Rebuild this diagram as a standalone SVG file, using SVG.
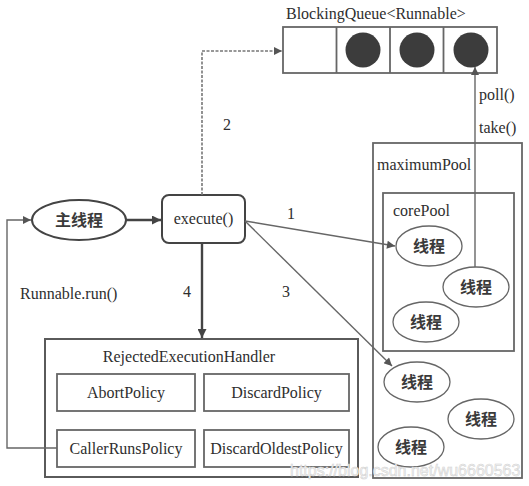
<svg xmlns="http://www.w3.org/2000/svg" width="529" height="486" viewBox="0 0 529 486">
<defs>
<marker id="ah" viewBox="0 0 10 10" refX="10" refY="5" markerWidth="10" markerHeight="8" markerUnits="userSpaceOnUse" orient="auto">
<path d="M0,0 L10,5 L0,10 Z" fill="#555"/>
</marker>
<marker id="ahd" viewBox="0 0 10 10" refX="10" refY="5" markerWidth="11" markerHeight="9" markerUnits="userSpaceOnUse" orient="auto">
<path d="M0,0 L10,5 L0,10 Z" fill="#444"/>
</marker>
</defs>
<style>
text{font-family:"Liberation Serif","Times New Roman",serif;font-size:16px;fill:#2e2e2e}
.cjk{font-family:"Noto Sans CJK SC","Liberation Serif",sans-serif;font-size:16px;font-weight:bold;fill:#3a3a3a}
.mid{text-anchor:middle}
.box{fill:#fff;stroke:#5a5a5a;stroke-width:2}
.pbox{fill:#fff;stroke:#666;stroke-width:1.8}
.pool{fill:none;stroke:#666;stroke-width:1.8}
.th{fill:#fff;stroke:#666;stroke-width:1.3}
.dot{fill:#3c3c3c}
.thin{fill:none;stroke:#666;stroke-width:1.4}
.thick{fill:none;stroke:#444;stroke-width:2.4}
.dash{fill:none;stroke:#777;stroke-width:1.6;stroke-dasharray:3,1.5}
.wm{font-family:"Liberation Sans",Arial,sans-serif;font-size:16px;fill:#f4f4f4;stroke:#cfcfcf;stroke-width:0.5}
</style>
<rect width="529" height="486" fill="#fff"/>

<g id="queue">
<text x="286" y="19">BlockingQueue&lt;Runnable&gt;</text>
<rect class="pool" x="283" y="27" width="214" height="46"/>
<line class="pool" x1="336.5" y1="27" x2="336.5" y2="73"/>
<line class="pool" x1="390" y1="27" x2="390" y2="73"/>
<line class="pool" x1="443.5" y1="27" x2="443.5" y2="73"/>
<circle class="dot" cx="363" cy="50" r="17.5"/>
<circle class="dot" cx="417" cy="50" r="17.5"/>
<circle class="dot" cx="471" cy="50" r="17.5"/>
</g>

<g id="maximumPool">
<rect class="pool" x="373" y="143" width="149" height="335"/>
<text x="377" y="170">maximumPool</text>
<ellipse class="th" cx="417" cy="382" rx="33" ry="20"/>
<text class="cjk mid" x="417" y="388">线程</text>
<ellipse class="th" cx="481" cy="419" rx="33" ry="20"/>
<text class="cjk mid" x="481" y="425">线程</text>
<ellipse class="th" cx="411" cy="447" rx="33" ry="20"/>
<text class="cjk mid" x="411" y="453">线程</text>
</g>

<g id="corePool">
<rect class="pool" x="383" y="193" width="131" height="158"/>
<text x="393" y="216">corePool</text>
<ellipse class="th" cx="429" cy="246" rx="33" ry="20"/>
<text class="cjk mid" x="429" y="252">线程</text>
<ellipse class="th" cx="476" cy="287" rx="33" ry="20"/>
<text class="cjk mid" x="476" y="293">线程</text>
<ellipse class="th" cx="426" cy="322" rx="33" ry="20"/>
<text class="cjk mid" x="426" y="328">线程</text>
</g>

<g id="mainThread">
<ellipse fill="#fff" stroke="#444" stroke-width="2" cx="79" cy="220" rx="47" ry="20"/>
<text class="cjk mid" x="79" y="226">主线程</text>
</g>

<g id="execute">
<rect fill="#fff" stroke="#444" stroke-width="2" x="162" y="195" width="83" height="48" rx="7"/>
<text class="mid" x="203.5" y="224">execute()</text>
</g>

<g id="handler">
<rect class="box" x="45" y="339" width="313" height="138"/>
<text class="mid" x="189" y="362">RejectedExecutionHandler</text>
<g id="abort">
<rect class="pbox" x="57" y="374" width="138" height="37"/>
<text class="mid" x="126" y="398">AbortPolicy</text>
</g>
<g id="discard">
<rect class="pbox" x="204" y="374" width="145" height="37"/>
<text class="mid" x="276.5" y="398">DiscardPolicy</text>
</g>
<g id="callerRuns">
<rect class="pbox" x="57" y="430" width="138" height="37"/>
<text class="mid" x="126" y="454">CallerRunsPolicy</text>
</g>
<g id="discardOldest">
<rect class="pbox" x="204" y="430" width="145" height="37"/>
<text class="mid" x="276.5" y="454">DiscardOldestPolicy</text>
</g>
</g>

<g id="connectors">
<line class="thick" x1="126" y1="220" x2="161" y2="220" marker-end="url(#ahd)"/>
<polyline class="thin" points="57,448 7,448 7,220 31,220" marker-end="url(#ah)"/>
<polyline class="dash" points="202,195 202,51 282,51" marker-end="url(#ah)"/>
<line class="thick" x1="202" y1="243" x2="202" y2="338" marker-end="url(#ahd)"/>
<line class="thin" x1="245" y1="221" x2="395" y2="246" marker-end="url(#ah)"/>
<line class="thin" x1="245" y1="221" x2="392" y2="366" marker-end="url(#ah)"/>
<line class="thin" x1="475" y1="267" x2="475" y2="67" marker-end="url(#ah)"/>
<text class="mid" x="227" y="130">2</text>
<text class="mid" x="291" y="219">1</text>
<text class="mid" x="187" y="297">4</text>
<text class="mid" x="286" y="297">3</text>
<text x="20" y="299">Runnable.run()</text>
<text x="479" y="100">poll()</text>
<text x="479" y="133">take()</text>
</g>

<text class="wm" x="290" y="476">https://blog.csdn.net/wu6660563</text>
</svg>
